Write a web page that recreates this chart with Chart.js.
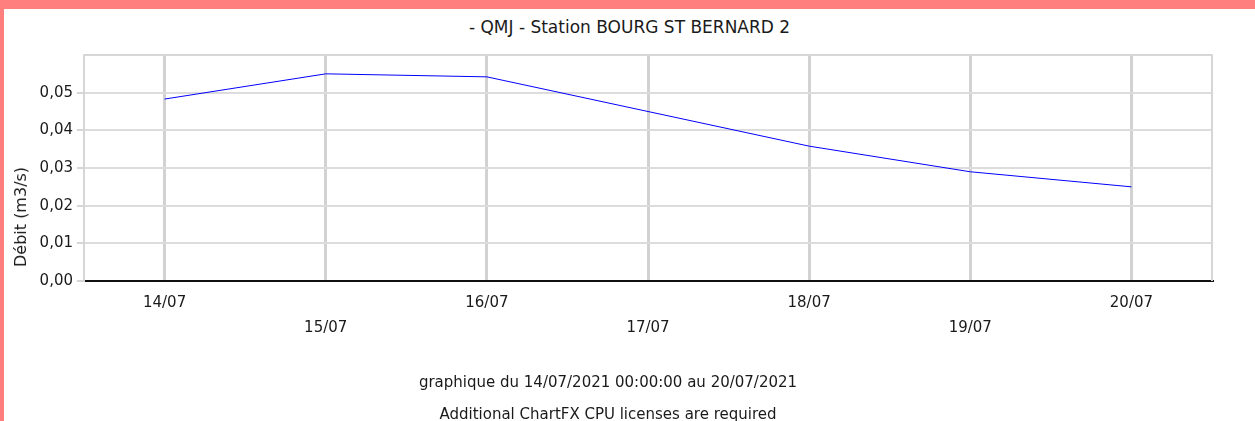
<!DOCTYPE html>
<html>
<head>
<meta charset="utf-8">
<script src="https://cdn.jsdelivr.net/npm/chart.js@4"></script>
<style>
  html, body { margin: 0; padding: 0; }
  body { width: 1255px; height: 421px; background: #ff7f7f; position: relative; overflow: hidden; font-family: "DejaVu Sans", sans-serif; }
  #sheet { position: absolute; left: 4px; top: 9px; right: 0; bottom: 0; background: #fff; }
  #wrap { position: absolute; left: 0; top: 0; width: 1255px; height: 421px; }
  #title { position: absolute; left: 4px; right: 0; top: 17px; text-align: center; font-size: 17px; line-height: 20px; color: #1a1a1a; }
  .foot { position: absolute; left: 4px; right: 43px; text-align: center; font-size: 15px; line-height: 18px; color: #1a1a1a; }
  #ytitle { position: absolute; left: 21px; top: 217px; transform: translate(-50%, -50%) rotate(-90deg); font-size: 16px; line-height: 18px; white-space: nowrap; color: #1a1a1a; }
</style>
</head>
<body>
<div id="sheet"></div>
<div id="title">- QMJ - Station BOURG ST BERNARD 2</div>
<div id="wrap"><canvas id="chart"></canvas></div>
<div id="ytitle">Débit (m3/s)</div>
<div class="foot" style="top: 373px;">graphique du 14/07/2021 00:00:00 au 20/07/2021</div>
<div class="foot" style="top: 405px;">Additional ChartFX CPU licenses are required</div>
<script>
const days = ["14/07", "15/07", "16/07", "17/07", "18/07", "19/07", "20/07"];
const debit = [0.0483, 0.055, 0.0542, 0.045, 0.0358, 0.029, 0.025];
const yTicks = [0, 0.01, 0.02, 0.03, 0.04, 0.05, 0.06];

// light grey frame on the top/right of the plot
const frame = {
  id: "frame",
  beforeDatasetsDraw(chart) {
    const { ctx, chartArea: a } = chart;
    ctx.save();
    ctx.strokeStyle = "#d6d6d6";
    ctx.lineWidth = 2;
    ctx.beginPath();
    ctx.moveTo(a.left, a.top);
    ctx.lineTo(a.right, a.top);
    ctx.lineTo(a.right, a.bottom);
    ctx.stroke();
    ctx.restore();
  }
};

new Chart(document.getElementById("chart"), {
  type: "line",
  data: {
    labels: days,
    datasets: [{
      label: "Débit",
      data: debit,
      borderColor: "#0000ff",
      borderWidth: 1,
      pointRadius: 0,
      tension: 0,
      fill: false
    }]
  },
  options: {
    responsive: true,
    maintainAspectRatio: false,
    animation: false,
    layout: { padding: { left: 4, right: 43, top: 55, bottom: 80 } },
    plugins: {
      legend: { display: false },
      tooltip: { enabled: false }
    },
    scales: {
      x: {
        offset: true,
        grid: { color: "#d2d2d2", lineWidth: 3, drawTicks: false, offset: false },
        border: { color: "#111", width: 2 },
        ticks: {
          autoSkip: false,
          maxRotation: 0,
          padding: 10,
          color: "#1a1a1a",
          font: { family: "DejaVu Sans", size: 15, lineHeight: "25px" },
          callback: (v, i) => i % 2 ? ["", days[i]] : days[i]
        },
        afterFit: s => { s.height = 60; }
      },
      y: {
        min: 0,
        max: 0.06,
        afterBuildTicks: s => { s.ticks = yTicks.map(v => ({ value: v })); },
        grid: {
          color: "#dcdcdc",
          lineWidth: 2,
          tickLength: 7,
          tickColor: c => c.tick && c.tick.value >= 0.06 ? "rgba(0,0,0,0)" : "#d6d6d6"
        },
        border: { color: "#d6d6d6", width: 2 },
        ticks: {
          padding: 4,
          color: "#1a1a1a",
          font: { family: "DejaVu Sans", size: 15 },
          callback: v => v >= 0.06 ? "" : v.toFixed(2).replace(".", ",")
        },
        afterFit: s => { s.width = 80; }
      }
    }
  },
  plugins: [frame]
});
</script>
</body>
</html>
